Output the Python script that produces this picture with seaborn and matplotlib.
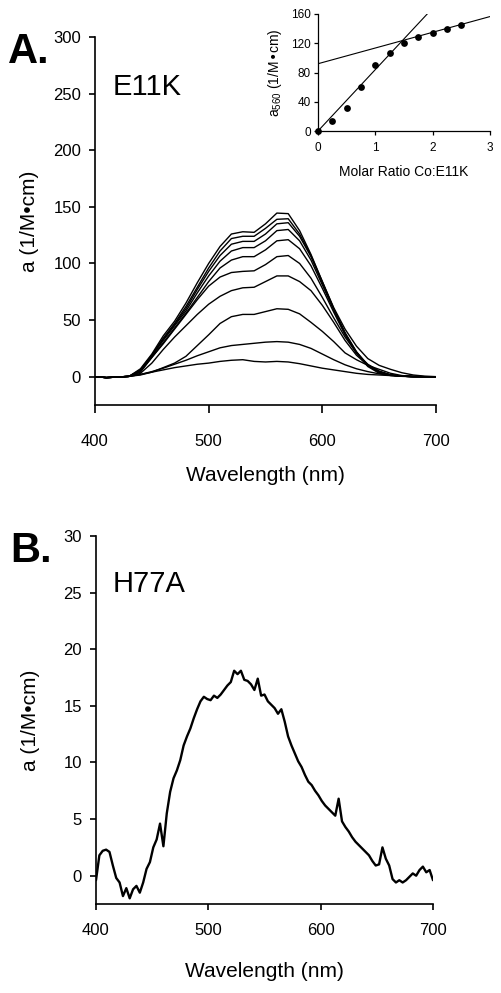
import numpy as np
import matplotlib
matplotlib.use('Agg')
import matplotlib.pyplot as plt
import seaborn as sns

# wavelengths (nm) for the E11K titration spectra
wl_a = np.arange(400, 701, 10)

# E11K spectra, one per Co addition (molar ratio 0.25 ... 2.5)
a_r025 = [0, -0.8, -0.3, 0.3, 2, 4, 6, 8, 9.5, 11,
          12, 13.5, 14.5, 15, 13.5, 13, 13.5, 13, 11.5, 9.5,
          7.5, 6, 4.5, 3, 2, 1.5, 1, 0.5, 0.3, 0, 0]
a_r050 = [0, -0.8, -0.3, 0.3, 2, 4.5, 7.5, 11, 14.5, 18.5,
          22, 25.5, 27.5, 28.5, 29.5, 30.5, 31, 30.5, 28.5, 25,
          20, 15, 10.5, 7, 4.5, 2.5, 1.2, 0.5, 0.2, 0, 0]
a_r075 = [0, -0.8, -0.3, 0.3, 1.5, 4, 8, 12, 18, 27.5,
          37, 47, 53, 55, 55, 57.5, 60, 59.5, 55.5, 48,
          40, 31, 21, 15, 10, 6.5, 3, 1, 0.3, 0, 0]
a_r100 = [0, -0.8, -0.3, 0.3, 3, 12, 24, 35, 45, 55,
          64, 71, 76, 78.5, 79, 84, 89, 89, 84, 76,
          63, 48, 32, 19, 10, 4.5, 1.5, 0.5, 0, 0, 0]
a_r125 = [0, -0.8, -0.3, 0.3, 4, 17, 29, 42, 55, 68,
          80, 88, 92, 93, 93.5, 99, 106, 107, 100, 87,
          70, 52, 35, 21, 11, 5, 1.5, 0.5, 0, 0, 0]
a_r150 = [0, -0.8, -0.3, 0.3, 5, 17, 30, 43, 56, 70,
          84, 96, 103, 106, 106, 112, 120, 121, 113, 98,
          78, 57, 37, 21, 10, 4.5, 1.5, 0.5, 0, 0, 0]
a_r175 = [0, -0.8, -0.3, 0.3, 5, 18, 32, 45, 58, 74,
          89, 102, 111, 114, 114, 120, 129, 130, 120, 103,
          81, 59, 38, 22, 10, 4, 1.5, 0.5, 0, 0, 0]
a_r200 = [0, -0.8, -0.3, 0.3, 6, 19, 33, 46, 60, 77,
          93, 107, 117, 119.5, 119.5, 126, 135, 136, 124, 106,
          83, 60, 39, 22, 10, 4, 1.5, 0.5, 0, 0, 0]
a_r225 = [0, -0.8, -0.3, 0.3, 6, 19, 34, 47, 62, 79,
          96, 111, 122, 124, 124, 131, 139, 139.5, 126, 107,
          84, 61, 42, 27, 16, 10, 6.5, 3.5, 1.5, 0.5, 0]
a_r250 = [0, -0.8, -0.3, 0.3, 7, 20, 36, 49, 65, 83,
          100, 115, 126, 128, 127.5, 135, 144.5, 144, 129, 108,
          84, 60, 38, 21, 9, 3, 1, 0.3, 0, 0, 0]

# inset: a560 vs molar ratio
ratio = [0, 0.25, 0.5, 0.75, 1.0, 1.25, 1.5, 1.75, 2.0, 2.25, 2.5]
a560 = [0, 14, 31, 60, 90, 107, 121, 128, 134, 140, 145]
fit_slope = [84.0, 21.5]
fit_intercept = [0.0, 92.0]

# H77A spectrum, 3 nm steps
wl_b = np.arange(400, 701, 3)
a_h77a = [-0.4, 1.8, 2.2, 2.3, 2.1, 0.9, -0.2, -0.6, -1.8, -1.1,
          -2.0, -1.2, -0.9, -1.5, -0.6, 0.6, 1.2, 2.5, 3.2, 4.6,
          2.6, 5.5, 7.4, 8.6, 9.3, 10.2, 11.5, 12.3, 13.0, 13.9,
          14.7, 15.4, 15.8, 15.6, 15.5, 15.9, 15.7, 16.0, 16.4, 16.8,
          17.1, 18.1, 17.8, 18.1, 17.3, 17.2, 16.9, 16.4, 17.4, 15.9,
          16.0, 15.4, 15.1, 14.8, 14.3, 14.7, 13.6, 12.3, 11.5, 10.8,
          10.1, 9.6, 8.9, 8.3, 8.0, 7.5, 7.1, 6.6, 6.2, 5.9,
          5.6, 5.3, 6.8, 4.8, 4.3, 3.9, 3.4, 3.0, 2.7, 2.4,
          2.1, 1.8, 1.3, 0.9, 1.0, 2.5, 1.5, 0.9, -0.3, -0.6,
          -0.4, -0.6, -0.4, -0.1, 0.2, 0.0, 0.5, 0.8, 0.3, 0.5,
          -0.4]

sns.set_style('ticks', {'axes.edgecolor': 'black', 'xtick.color': 'black',
                        'ytick.color': 'black', 'text.color': 'black',
                        'axes.labelcolor': 'black'})
plt.rcParams['font.family'] = ['Liberation Sans', 'DejaVu Sans']
plt.rcParams['xtick.direction'] = 'out'
plt.rcParams['ytick.direction'] = 'out'

W, H = 502, 993
fig = plt.figure(figsize=(W / 100, H / 100), dpi=100)


def px_axes(left, top, right, bottom):
    return fig.add_axes([left / W, 1 - bottom / H, (right - left) / W, (bottom - top) / H])


def style_main(ax, xpad):
    sns.despine(ax=ax)
    for s in ['left', 'bottom']:
        ax.spines[s].set_linewidth(1.2)
    ax.tick_params(axis='both', length=4, width=1.2, labelsize=12)
    ax.tick_params(axis='y', pad=6)
    ax.tick_params(axis='x', pad=xpad)


# panel A
axA = px_axes(95, 37, 436, 405)
for vals in [a_r025, a_r050, a_r075, a_r100, a_r125,
             a_r150, a_r175, a_r200, a_r225, a_r250]:
    sns.lineplot(x=wl_a, y=vals, ax=axA, color='black', lw=1.0,
                 estimator=None, sort=False)
axA.set_xlim(400, 700)
axA.set_ylim(-25, 300)
axA.set_xticks([400, 500, 600, 700])
axA.set_yticks([0, 50, 100, 150, 200, 250, 300])
axA.set_xlabel('Wavelength (nm)', fontsize=15, labelpad=12)
axA.set_ylabel('a (1/M\u2022cm)', fontsize=15, labelpad=10)
style_main(axA, 15)
axA.tick_params(axis='x', length=6)

# inset
axI = px_axes(318, 14, 490, 131)
axI.set_xlim(0, 3)
axI.set_ylim(0, 160)
xs = np.array(axI.get_xlim())
for m, b in zip(fit_slope, fit_intercept):
    sns.lineplot(x=xs, y=m * xs + b, ax=axI, color='black', lw=0.8,
                 estimator=None, sort=False)
sns.scatterplot(x=ratio, y=a560, ax=axI, color='black', s=24,
                edgecolor='black', linewidth=0, zorder=3, clip_on=False)
axI.set_xticks([0, 1, 2, 3])
axI.set_yticks([0, 40, 80, 120, 160])
axI.set_xlabel('Molar Ratio Co:E11K', fontsize=10, labelpad=8)
axI.set_ylabel(r'a$_{\mathregular{560}}$ (1/M' + '\u2022cm)', fontsize=10, labelpad=5)
sns.despine(ax=axI)
for s in ['left', 'bottom']:
    axI.spines[s].set_linewidth(0.9)
axI.tick_params(axis='both', length=3, width=0.9, labelsize=8.5)
axI.tick_params(axis='x', pad=5)
axI.tick_params(axis='y', pad=2)

# panel B
axB = px_axes(96, 536, 433, 904)
sns.lineplot(x=wl_b, y=a_h77a, ax=axB, color='black', lw=1.7,
             estimator=None, sort=False)
axB.set_xlim(400, 700)
axB.set_ylim(-2.5, 30)
axB.set_xticks([400, 500, 600, 700])
axB.set_yticks([0, 5, 10, 15, 20, 25, 30])
axB.set_xlabel('Wavelength (nm)', fontsize=15, labelpad=17)
axB.set_ylabel('a (1/M\u2022cm)', fontsize=15, labelpad=17)
style_main(axB, 10)

# panel letters and sample names
fig.text(8 / W, 1 - 63 / H, 'A.', fontsize=30, fontweight='bold', va='baseline')
fig.text(113 / W, 1 - 95 / H, 'E11K', fontsize=21, va='baseline')
fig.text(10 / W, 1 - 562 / H, 'B.', fontsize=30, fontweight='bold', va='baseline')
fig.text(113 / W, 1 - 592 / H, 'H77A', fontsize=21, va='baseline')

fig.savefig('out.png', dpi=100)
